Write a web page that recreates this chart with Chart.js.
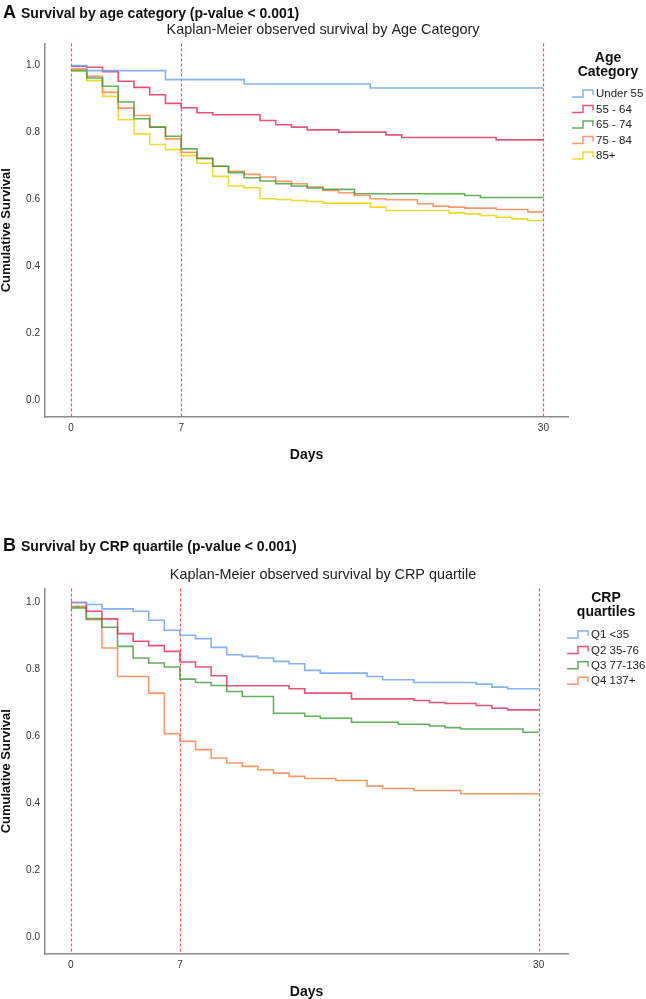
<!DOCTYPE html>
<html>
<head>
<meta charset="utf-8">
<script src="https://cdn.jsdelivr.net/npm/chart.js@4.4.1/dist/chart.umd.min.js"></script>
<style>
  html, body { margin: 0; padding: 0; background: #fff; }
  #page { position: relative; width: 646px; height: 999px; font-family: 'Liberation Sans', Arial, sans-serif; color: #111; }
  .head { position: absolute; left: 3px; z-index: 2; font-weight: bold; font-size: 14px; line-height: 18px; white-space: nowrap; }
  .head b { font-size: 18px; margin-right: 5px; }
  .wrap { position: absolute; left: 0; width: 646px; }
</style>
</head>
<body>
<div id="page">
  <div class="head" style="top:3px"><b>A</b>Survival by age category (p-value &lt; 0.001)</div>
  <div class="wrap" style="top:0"><canvas id="chartA" width="646" height="462"></canvas></div>
  <div class="head" style="top:536px"><b>B</b>Survival by CRP quartile (p-value &lt; 0.001)</div>
  <div class="wrap" style="top:533px"><canvas id="chartB" width="646" height="466"></canvas></div>
</div>
<script>
const FONT = "'Liberation Sans', Arial, sans-serif";

// days since admission, one value per day for each curve
const days = [0, 1, 2, 3, 4, 5, 6, 7, 8, 9, 10, 11, 12, 13, 14, 15, 16, 17, 18, 19, 20, 21, 22, 23, 24, 25, 26, 27, 28, 29, 30];
const xTicks = [0, 7, 30];
const yTicks = [0, 0.2, 0.4, 0.6, 0.8, 1.0];
const refDays = [0, 7, 30];

// panel A - age category
const ageGroups = ['Under 55', '55 - 64', '65 - 74', '75 - 84', '85+'];
const ageUnder55 = [1.0, 0.985, 0.985, 0.985, 0.985, 0.985, 0.958, 0.958, 0.958, 0.958, 0.958, 0.945, 0.945, 0.945, 0.945, 0.945, 0.945, 0.945, 0.945, 0.933, 0.933, 0.933, 0.933, 0.933, 0.933, 0.933, 0.933, 0.933, 0.933, 0.933, 0.933];
const age55to64 = [0.998, 0.995, 0.982, 0.953, 0.935, 0.913, 0.887, 0.874, 0.859, 0.853, 0.853, 0.853, 0.836, 0.823, 0.816, 0.808, 0.808, 0.801, 0.801, 0.801, 0.793, 0.785, 0.785, 0.785, 0.785, 0.785, 0.785, 0.778, 0.778, 0.778, 0.778];
const age65to74 = [0.985, 0.963, 0.938, 0.891, 0.841, 0.816, 0.789, 0.751, 0.723, 0.699, 0.680, 0.665, 0.655, 0.647, 0.640, 0.634, 0.630, 0.630, 0.617, 0.617, 0.617, 0.617, 0.617, 0.617, 0.617, 0.612, 0.606, 0.606, 0.606, 0.606, 0.606];
const age75to84 = [0.99, 0.968, 0.92, 0.873, 0.851, 0.816, 0.781, 0.741, 0.722, 0.699, 0.684, 0.675, 0.667, 0.654, 0.647, 0.637, 0.627, 0.620, 0.612, 0.602, 0.599, 0.599, 0.587, 0.580, 0.577, 0.574, 0.574, 0.570, 0.570, 0.563, 0.563];
const age85plus = [0.985, 0.955, 0.908, 0.838, 0.796, 0.764, 0.749, 0.731, 0.708, 0.669, 0.640, 0.635, 0.602, 0.600, 0.597, 0.594, 0.589, 0.589, 0.589, 0.577, 0.567, 0.567, 0.567, 0.567, 0.560, 0.557, 0.552, 0.547, 0.542, 0.537, 0.537];

// panel B - CRP quartile
const crpGroups = ['Q1 <35', 'Q2 35-76', 'Q3 77-136', 'Q4 137+'];
const crpQ1 = [1.0, 0.994, 0.981, 0.981, 0.974, 0.947, 0.917, 0.902, 0.892, 0.866, 0.844, 0.839, 0.834, 0.824, 0.817, 0.797, 0.789, 0.789, 0.789, 0.779, 0.769, 0.769, 0.761, 0.761, 0.761, 0.761, 0.756, 0.747, 0.742, 0.742, 0.742];
const crpQ2 = [1.0, 0.974, 0.951, 0.907, 0.884, 0.871, 0.854, 0.822, 0.807, 0.781, 0.751, 0.751, 0.751, 0.751, 0.742, 0.729, 0.729, 0.729, 0.712, 0.712, 0.712, 0.712, 0.707, 0.701, 0.698, 0.698, 0.692, 0.684, 0.679, 0.679, 0.679];
const crpQ3 = [0.984, 0.952, 0.926, 0.869, 0.834, 0.819, 0.807, 0.771, 0.761, 0.752, 0.734, 0.719, 0.719, 0.669, 0.669, 0.660, 0.654, 0.654, 0.642, 0.642, 0.642, 0.636, 0.636, 0.631, 0.626, 0.622, 0.622, 0.622, 0.622, 0.612, 0.612];
const crpQ4 = [0.989, 0.949, 0.864, 0.779, 0.779, 0.729, 0.608, 0.585, 0.56, 0.535, 0.52, 0.51, 0.5, 0.49, 0.48, 0.474, 0.474, 0.468, 0.468, 0.451, 0.444, 0.444, 0.438, 0.438, 0.438, 0.428, 0.428, 0.428, 0.428, 0.428, 0.428];

const curveColors = ['rgba(110,165,240,0.85)', 'rgba(228,40,85,0.8)', 'rgba(60,155,50,0.8)', 'rgba(255,125,70,0.8)', 'rgba(238,212,10,0.85)'];

// dotted red lines at day 0, 7 and 30
const refLines = {
  id: 'refLines',
  beforeDatasetsDraw(chart) {
    const { ctx, chartArea, scales: { x } } = chart;
    ctx.save();
    ctx.strokeStyle = 'rgb(245,85,85)';
    ctx.lineWidth = 1.2;
    ctx.setLineDash([3, 2]);
    refDays.forEach(d => {
      const px = Math.round(x.getPixelForValue(d)) + 0.5;
      ctx.beginPath();
      ctx.moveTo(px, chartArea.top);
      ctx.lineTo(px, chartArea.bottom);
      ctx.stroke();
    });
    ctx.restore();
  }
};

// SPSS style legend with little step icons
const stepLegend = {
  id: 'stepLegend',
  afterDraw(chart, args, o) {
    const ctx = chart.ctx;
    ctx.save();
    ctx.fillStyle = '#111';
    ctx.font = 'bold 14px ' + FONT;
    ctx.textAlign = 'center';
    ctx.textBaseline = 'middle';
    o.title.forEach((t, i) => ctx.fillText(t, o.titleX, o.titleY + i * 14.6));
    ctx.font = '11.5px ' + FONT;
    ctx.textAlign = 'left';
    chart.data.datasets.forEach((ds, i) => {
      const y = o.itemY + i * o.gap;
      ctx.strokeStyle = ds.borderColor;
      ctx.lineWidth = 1.5;
      ctx.beginPath();
      ctx.moveTo(o.x, y + 3);
      ctx.lineTo(o.x + 11, y + 3);
      ctx.lineTo(o.x + 11, y - 4);
      ctx.lineTo(o.x + 21, y - 4);
      ctx.lineTo(o.x + 21, y + 1);
      ctx.stroke();
      ctx.fillStyle = '#222';
      ctx.fillText(ds.label, o.x + 24, y);
    });
    ctx.restore();
  }
};

function makeChart(id, title, names, series, range, legendOpts, padTop) {
  const datasets = series.map((vals, i) => ({
    label: names[i],
    data: days.map((d, j) => ({ x: d, y: vals[j] })),
    borderColor: curveColors[i],
    yAxisID: 'y'
  }));

  return new Chart(document.getElementById(id), {
    type: 'line',
    data: { datasets },
    plugins: [refLines, stepLegend],
    options: {
      responsive: false,
      animation: false,
      layout: { padding: { top: padTop, left: 0, right: 0, bottom: 0 } },
      elements: {
        point: { radius: 0 },
        line: { borderWidth: 1.6, stepped: 'before', tension: 0 }
      },
      plugins: {
        legend: { display: false },
        tooltip: { enabled: false },
        title: {
          display: true,
          text: title,
          color: '#222',
          font: { family: FONT, size: 14.4, weight: 'normal', lineHeight: 1.2 },
          padding: { top: 0, bottom: 4.6 }
        },
        stepLegend: legendOpts
      },
      scales: {
        x: {
          type: 'linear',
          min: range.xMin,
          max: range.xMax,
          grid: { display: false, drawTicks: false },
          border: { color: '#8c8c8c', width: 1.5 },
          afterBuildTicks: s => { s.ticks = xTicks.map(v => ({ value: v })); },
          afterFit: s => { s.height = 45; },
          ticks: { color: '#333', font: { family: FONT, size: 10 }, padding: 5, maxRotation: 0, autoSkip: false, callback: v => String(v) },
          title: { display: true, text: 'Days', color: '#111', font: { family: FONT, size: 14, weight: 'bold', lineHeight: 1 }, padding: 0 }
        },
        y: {
          type: 'linear',
          min: range.yMin,
          max: range.yMax,
          grid: { display: false, drawTicks: false },
          border: { color: '#8c8c8c', width: 1.5 },
          afterBuildTicks: s => { s.ticks = yTicks.map(v => ({ value: v })); },
          afterFit: s => { s.width = 45; },
          ticks: { color: '#333', font: { family: FONT, size: 10 }, padding: 5, callback: v => v.toFixed(1) },
          title: { display: true, text: 'Cumulative Survival', color: '#111', font: { family: FONT, size: 13, weight: 'bold', lineHeight: 1 }, padding: 0 }
        },
        // empty axis that keeps room on the right for the legend
        yr: {
          type: 'linear',
          position: 'right',
          grid: { display: false },
          border: { display: false },
          ticks: { display: false },
          afterFit: s => { s.width = 78; }
        }
      }
    }
  });
}

makeChart('chartA', 'Kaplan-Meier observed survival by Age Category', ageGroups,
  [ageUnder55, age55to64, age65to74, age75to84, age85plus],
  { xMin: -1.65, xMax: 31.56, yMin: -0.05, yMax: 1.066 },
  { title: ['Age', 'Category'], titleX: 608, titleY: 58, x: 572, itemY: 94, gap: 15.5 },
  21.6);

makeChart('chartB', 'Kaplan-Meier observed survival by CRP quartile', crpGroups,
  [crpQ1, crpQ2, crpQ3, crpQ4],
  { xMin: -1.65, xMax: 31.88, yMin: -0.051, yMax: 1.042 },
  { title: ['CRP', 'quartiles'], titleX: 606, titleY: 65, x: 567, itemY: 102, gap: 15.4 },
  33.6);
</script>
</body>
</html>
